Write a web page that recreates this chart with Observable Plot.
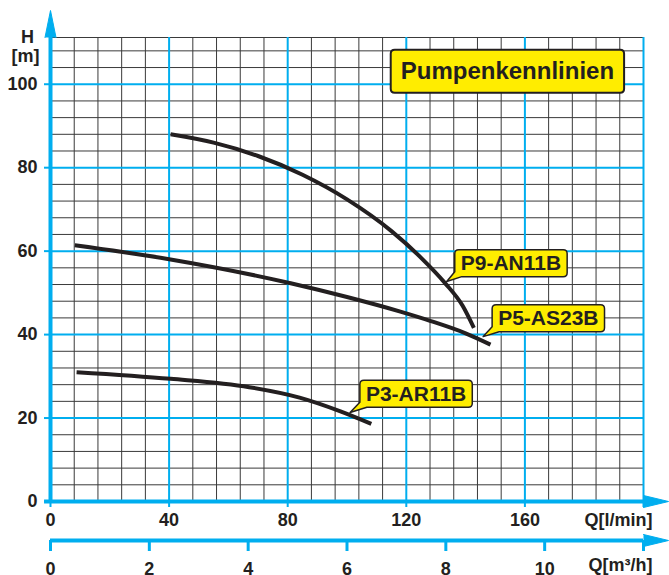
<!DOCTYPE html>
<html>
<head>
<meta charset="utf-8">
<script src="https://cdn.jsdelivr.net/npm/d3@7"></script>
<script src="https://cdn.jsdelivr.net/npm/@observablehq/plot@0.6"></script>
<style>
  html, body { margin: 0; padding: 0; background: #ffffff; }
  svg { display: block; }
</style>
</head>
<body>
<script>
// ---------- data ----------
const qTicks = [0, 40, 80, 120, 160, 200];       // l/min major ticks
const qLabels = [0, 40, 80, 120, 160];
const hTicks = [0, 20, 40, 60, 80, 100];          // m
const m3Ticks = [0, 2, 4, 6, 8, 10, 12];          // m³/h
const m3Labels = [0, 2, 4, 6, 8, 10];
const qGridStep = 8, hGridStep = 4;
const qMax = 200, hTop = 111.2;

const p9Q = [40.5, 55, 70, 85, 100, 115, 125, 133, 139, 142.8];
const p9H = [88.0, 86.0, 82.8, 78.3, 72.4, 64.8, 58.4, 52.4, 46.9, 41.6];
const p5Q = [8.2, 40.5, 81, 100, 118, 128, 140, 148.4];
const p5H = [61.4, 58.0, 52.3, 49.0, 45.5, 43.3, 40.3, 37.6];
const p3Q = [8.8, 40.5, 67, 84, 97.8, 108.2];
const p3H = [31.0, 29.4, 27.4, 24.9, 21.6, 18.6];

const calloutNames = ["P9-AN11B", "P5-AS23B", "P3-AR11B"];
const calloutQ = [155.3, 167.9, 123.3];
const calloutH = [57.0, 43.8, 25.7];
const tipQ = [133.8, 146.1, 101.2];
const tipH = [52.6, 39.4, 21.2];

const titleText = "Pumpenkennlinien";
const titleQ = 154.1, titleH = 103.0;

// ---------- styles ----------
const blue = "#00aeef", dark = "#231f20", yellow = "#ffed00", gridColor = "#3a3a3a";
const font = "'Liberation Sans', Arial, sans-serif";

// ---------- derived tables ----------
const curves = [
  {name: "P9-AN11B", q: p9Q, h: p9H},
  {name: "P5-AS23B", q: p5Q, h: p5H},
  {name: "P3-AR11B", q: p3Q, h: p3H}
];
const curveRows = curves.flatMap(c => c.q.map((q, i) => ({name: c.name, q, h: c.h[i]})));
const qGrid = d3.range(0, qMax + 0.1, qGridStep).filter(q => q % 40 !== 0);
const hGrid = d3.range(hGridStep, hTop, hGridStep).filter(h => h % 20 !== 0).concat([hTop]);
const qMajorGrid = qTicks.filter(q => q > 0);
const hMajorGrid = hTicks.filter(h => h > 0);
const callouts = calloutNames.map((name, i) => ({name, q: calloutQ[i], h: calloutH[i], tq: tipQ[i], th: tipH[i]}));
const m3ToQ = m => m * 1000 / 60;

const svg = Plot.plot({
  width: 669,
  height: 575,
  marginLeft: 50,
  marginRight: 26,
  marginTop: 37,
  marginBottom: 74,
  x: {domain: [0, qMax]},
  y: {domain: [0, hTop]},
  style: {fontFamily: font, fontSize: "18px", fontWeight: "bold", color: dark, background: "#fff", overflow: "visible"},
  marks: [
    // minor grid
    Plot.ruleX(qGrid, {y1: 0, y2: hTop, stroke: gridColor, strokeWidth: 1}),
    Plot.ruleY(hGrid, {x1: 0, x2: qMax, stroke: gridColor, strokeWidth: 1}),
    // major grid
    Plot.ruleX(qMajorGrid, {y1: 0, y2: hTop, stroke: blue, strokeWidth: 2}),
    Plot.ruleY(hMajorGrid, {x1: 0, x2: qMax, stroke: blue, strokeWidth: 2}),
    // curves
    Plot.line(curveRows, {x: "q", y: "h", z: "name", stroke: dark, strokeWidth: 4, curve: "monotone-x", strokeLinecap: "butt"}),
    // main axes lines
    Plot.ruleY([0], {x1: -2, x2: qMax, stroke: blue, strokeWidth: 4}),
    Plot.ruleX([0], {y1: 0, y2: hTop, stroke: blue, strokeWidth: 4}),
    Plot.vector([0], {x: qMax, y: 0, length: 25, rotate: 90, anchor: "start", shape: "spike", r: 6, stroke: blue, fill: blue, fillOpacity: 1, strokeWidth: 1}),
    Plot.vector([0], {x: 0, y: hTop, length: 27, rotate: 0, anchor: "start", shape: "spike", r: 5.5, stroke: blue, fill: blue, fillOpacity: 1, strokeWidth: 1}),
    // axes ticks & labels
    Plot.axisX(qTicks, {anchor: "bottom", tickSize: 6, tickPadding: 6, stroke: blue, strokeWidth: 2, fill: dark, fontSize: 18, fontWeight: "bold",
      tickFormat: d => qLabels.includes(d) ? String(d) : "", label: null}),
    Plot.axisY(hTicks, {anchor: "left", tickSize: 6, tickPadding: 7, stroke: blue, strokeWidth: 2, fill: dark, fontSize: 18, fontWeight: "bold", label: null}),
    // secondary m³/h axis
    Plot.ruleY([0], {x1: 0, x2: qMax, dy: 39, stroke: blue, strokeWidth: 4}),
    Plot.vector([0], {x: qMax, y: 0, dy: 39, length: 25, rotate: 90, anchor: "start", shape: "spike", r: 6, stroke: blue, fill: blue, fillOpacity: 1, strokeWidth: 1}),
    Plot.axisX(m3Ticks.map(m3ToQ), {anchor: "bottom", dy: 39, tickSize: 11, tickPadding: 11, stroke: blue, strokeWidth: 3, fill: dark, fontSize: 18, fontWeight: "bold",
      tickFormat: d => { const m = Math.round(d * 60 / 1000); return m3Labels.includes(m) ? String(m) : ""; }, label: null}),
    // axis titles
    Plot.text(["Q[l/min]"], {x: qMax, y: 0, dx: 9, dy: 19, textAnchor: "end", fill: dark, fontSize: 18, fontWeight: "bold"}),
    Plot.text(["Q[m³/h]"], {x: qMax, y: 0, dx: 9, dy: 64, textAnchor: "end", fill: dark, fontSize: 18, fontWeight: "bold"}),
    Plot.text(["H"], {x: 0, y: hTop, dx: -23, dy: 0, fill: dark, fontSize: 18, fontWeight: "bold"}),
    Plot.text(["[m]"], {x: 0, y: hTop, dx: -25, dy: 19, fill: dark, fontSize: 18, fontWeight: "bold"}),
    // callout texts
    Plot.text(callouts, {x: "q", y: "h", text: "name", fill: dark, fontSize: 21, fontWeight: "bold"}),
    Plot.text([titleText], {x: titleQ, y: titleH, fill: dark, fontSize: 24, fontWeight: "bold"})
  ]
});
document.body.append(svg);

// ---------- boxes behind callout texts ----------
const xs = svg.scale("x"), ys = svg.scale("y");
const NS = "http://www.w3.org/2000/svg";
function bubble(x0, y0, x1, y1, r, tip) {
  let p = `M${x0 + r},${y0} H${x1 - r} Q${x1},${y0} ${x1},${y0 + r} V${y1 - r} Q${x1},${y1} ${x1 - r},${y1}`;
  if (tip) {
    p += ` H${x0 + 7} L${tip[0]},${tip[1]} L${x0},${y1 - 5}`;
  } else {
    p += ` H${x0 + r} Q${x0},${y1} ${x0},${y1 - r}`;
  }
  p += ` V${y0 + r} Q${x0},${y0} ${x0 + r},${y0} Z`;
  return p;
}
const svgRect = svg.getBoundingClientRect();
const allTexts = Array.from(svg.querySelectorAll("text"));
function addBox(label, padX, hgt, sw, yc, tip) {
  const t = allTexts.find(el => el.textContent === label);
  if (!t) return;
  const g = t.parentNode;
  const r = t.getBoundingClientRect();
  const x0 = r.left - svgRect.left, x1 = r.right - svgRect.left;
  const path = document.createElementNS(NS, "path");
  path.setAttribute("d", bubble(x0 - padX, yc - hgt / 2, x1 + padX, yc + hgt / 2, 4, tip));
  path.setAttribute("fill", yellow);
  path.setAttribute("stroke", dark);
  path.setAttribute("stroke-width", sw);
  path.setAttribute("stroke-linejoin", "round");
  g.parentNode.insertBefore(path, g);
}
callouts.forEach(d => addBox(d.name, 6, 27, 1.5, ys.apply(d.h), [xs.apply(d.tq), ys.apply(d.th)]));
addBox(titleText, 10, 43, 2, ys.apply(titleH), null);
</script>
</body>
</html>
